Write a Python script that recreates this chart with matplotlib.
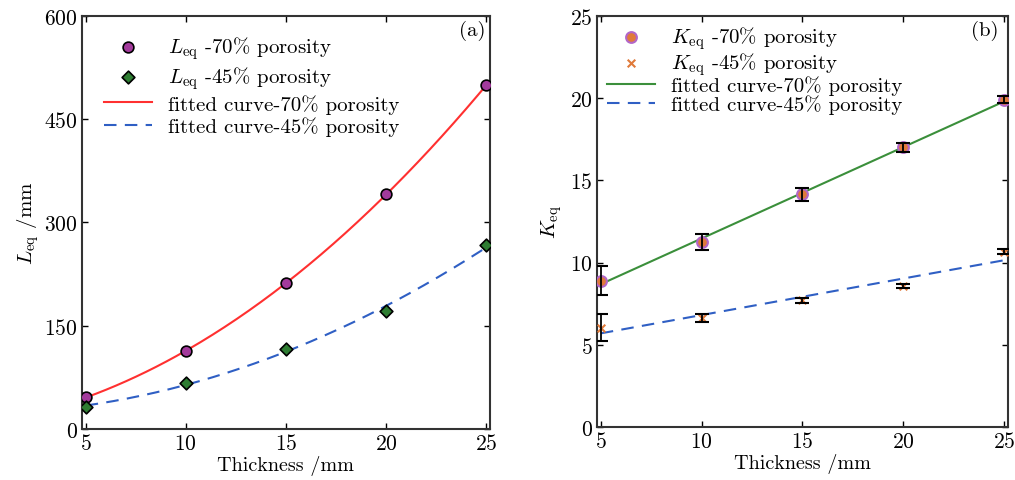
import numpy as np
import matplotlib
matplotlib.use("Agg")
import matplotlib.pyplot as plt

plt.rcParams["font.family"] = "serif"
plt.rcParams["font.serif"] = ["cmr10", "DejaVu Serif"]
plt.rcParams["mathtext.fontset"] = "cm"
plt.rcParams["axes.formatter.use_mathtext"] = True

# ── data ────────────────────────────────────────
thickness = [5, 10, 15, 20, 25]

L_70 = [46, 113, 212, 341, 499]
L_45 = [32, 67, 116, 171, 267]

K_70 = [8.9, 11.25, 14.15, 17.0, 19.9]
K_70_err = [0.9, 0.5, 0.4, 0.3, 0.2]
K_45 = [6.05, 6.65, 7.7, 8.55, 10.65]
K_45_err = [0.8, 0.25, 0.15, 0.12, 0.15]

fig = plt.figure(figsize=(10.15, 4.81), dpi=100)
ax1 = fig.add_axes([0.0805, 0.106, 0.4025, 0.859])
ax2 = fig.add_axes([0.588, 0.110, 0.405, 0.855])

xs = np.linspace(5, 25, 200)

# ── (a) L_eq ────────────────────────────────────
fit70 = np.polyfit(thickness, L_70, 2)
fit45 = np.polyfit(thickness, L_45, 2)
ax1.plot(xs, np.polyval(fit70, xs), color="#ff3030", lw=1.5, zorder=2,
         label="fitted curve-70% porosity")
ax1.plot(xs, np.polyval(fit45, xs), color="#2f5fc4", lw=1.5, ls=(0, (6, 4)),
         zorder=2, label="fitted curve-45% porosity")
ax1.scatter(thickness, L_70, marker="o", s=60, color="#a33a9c",
            edgecolors="black", linewidths=1.2, zorder=3,
            label=r"$L_{\rm eq}$ -70% porosity")
ax1.scatter(thickness, L_45, marker="D", s=42, color="#2e7d32",
            edgecolors="black", linewidths=1.2, zorder=3,
            label=r"$L_{\rm eq}$ -45% porosity")

ax1.set_xlim(4.8, 25.2)
ax1.set_ylim(0, 600)
ax1.set_xticks([5, 10, 15, 20, 25])
ax1.set_yticks([0, 150, 300, 450, 600])
ax1.set_xlabel("Thickness /mm", fontsize=14.5, labelpad=1)
ax1.set_ylabel(r"$L_{\rm eq}$ /mm", fontsize=15, labelpad=2)
ax1.text(0.956, 0.966, "(a)", transform=ax1.transAxes, ha="center",
         va="center", fontsize=15)
h, l = ax1.get_legend_handles_labels()
ax1.legend([h[2], h[3], h[0], h[1]], [l[2], l[3], l[0], l[1]],
           loc="upper left", bbox_to_anchor=(0.035, 0.975), frameon=False,
           fontsize=15, handlelength=2.3, labelspacing=0.14,
           handletextpad=0.75, borderaxespad=0.2, borderpad=0.2)

# ── (b) K_eq ────────────────────────────────────
kfit70 = np.polyfit(thickness, K_70, 1)
kfit45 = np.polyfit(thickness, K_45, 1)
ax2.plot(xs, np.polyval(kfit70, xs), color="#3b8f3b", lw=1.5, zorder=2,
         label="fitted curve-70% porosity")
ax2.plot(xs, np.polyval(kfit45, xs), color="#2f5fc4", lw=1.5, ls=(0, (6, 4)),
         zorder=2, label="fitted curve-45% porosity")
ax2.errorbar(thickness, K_70, yerr=K_70_err, fmt="none", ecolor="black",
             elinewidth=1.3, capsize=5, capthick=1.5, zorder=4)
ax2.errorbar(thickness, K_45, yerr=K_45_err, fmt="none", ecolor="black",
             elinewidth=1.3, capsize=5, capthick=1.5, zorder=4)
ax2.scatter(thickness, K_70, marker="o", s=60, color="#e07a3a",
            edgecolors="#b266c8", linewidths=1.5, zorder=3,
            label=r"$K_{\rm eq}$ -70% porosity")
ax2.scatter(thickness, K_45, marker="x", s=30, color="#e07a3a",
            linewidths=1.5, zorder=3, label=r"$K_{\rm eq}$ -45% porosity")

ax2.set_xlim(4.8, 25.2)
ax2.set_ylim(0, 25)
ax2.set_xticks([5, 10, 15, 20, 25])
ax2.set_yticks([0, 5, 10, 15, 20, 25])
ax2.set_xlabel("Thickness /mm", fontsize=14.5, labelpad=1)
ax2.set_ylabel(r"$K_{\rm eq}$", fontsize=15, labelpad=4)
ax2.text(0.944, 0.966, "(b)", transform=ax2.transAxes, ha="center",
         va="center", fontsize=15)
h, l = ax2.get_legend_handles_labels()
ax2.legend([h[2], h[3], h[0], h[1]], [l[2], l[3], l[0], l[1]],
           loc="upper left", bbox_to_anchor=(0.005, 1.0), frameon=False,
           fontsize=15, handlelength=2.3, labelspacing=-0.05,
           handletextpad=0.75, borderaxespad=0.2, borderpad=0.2)

for ax in (ax1, ax2):
    ax.tick_params(direction="in", top=True, right=True, labelsize=15.5,
                   length=4, width=1, pad=3)
    for sp in ax.spines.values():
        sp.set_linewidth(1.5)
        sp.set_color("#333333")

fig.savefig("out.png", dpi=100)
